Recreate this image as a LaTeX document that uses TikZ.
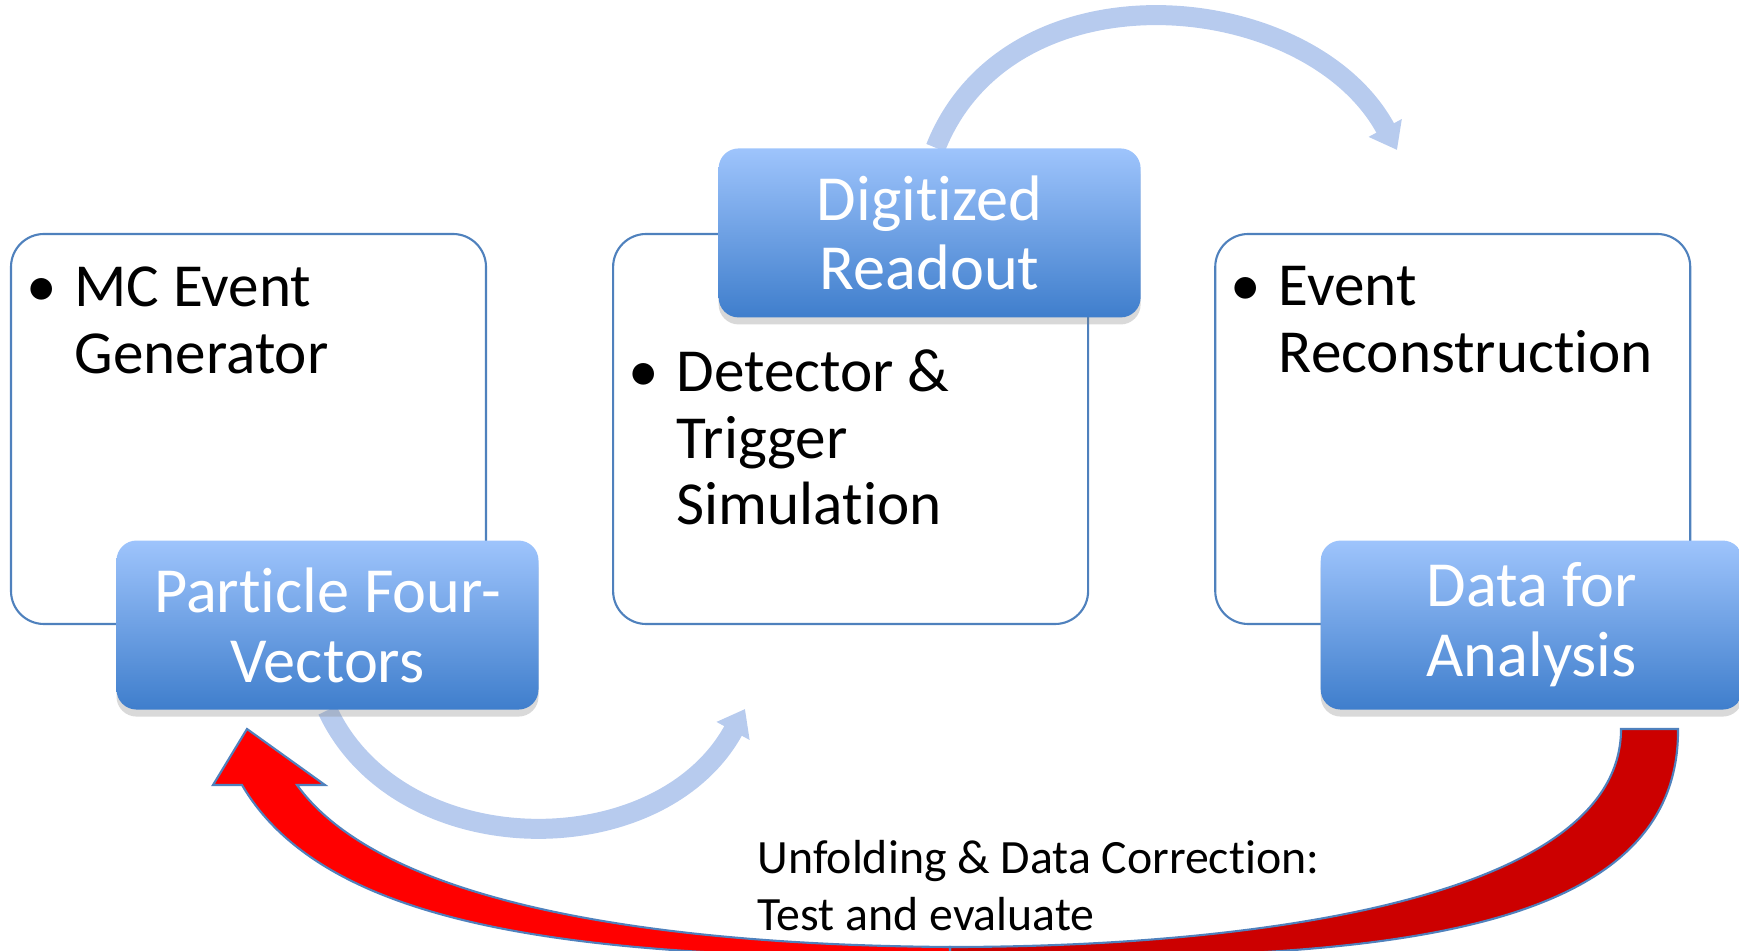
\documentclass[tikz,border=0pt]{standalone}
\usepackage{fontspec}
\setmainfont{Carlito}[Ligatures=NoCommon]
\usepackage{tikz}
\usetikzlibrary{positioning, calc, arrows.meta, shadows, backgrounds}
\usepackage{xcolor}

\definecolor{panelline}{RGB}{79,129,189}
\definecolor{tagtop}{RGB}{158,196,252}
\definecolor{tagbottom}{RGB}{63,126,204}
\definecolor{arcblue}{RGB}{183,203,238}
\definecolor{redlight}{RGB}{255,0,0}
\definecolor{reddark}{RGB}{204,0,0}

\begin{document}
\begin{tikzpicture}
    % Define styles
    \tikzstyle{panel} = [rectangle, rounded corners=0.33cm, minimum width=4.75cm, minimum height=3.9cm, draw=panelline, line width=0.6pt, fill=white]
    \tikzstyle{tag} = [rectangle, rounded corners=0.2cm, minimum width=4.22cm, minimum height=1.69cm, top color=tagtop, bottom color=tagbottom, text=white, align=center, font=\fontsize{18.3}{19.9}\selectfont, drop shadow={shadow xshift=0pt, shadow yshift=-2pt, opacity=0.3}]
    \tikzstyle{bullets} = [inner sep=0, align=left, anchor=north west, font=\fontsize{17.4}{19}\selectfont]
    \tikzstyle{flow} = [line width=0.2cm, arcblue, -{Triangle[length=0.25cm, width=0.36cm]}]
    \tikzstyle{redarrow} = [draw=panelline, line width=0.6pt]

    \useasboundingbox (0,0) rectangle (17.39,-9.51);
    \clip (0,0) rectangle (17.39,-9.51);

    % Nodes
    \node (gen) [panel] at (2.485,-4.29) {};
    \node (sim) [panel, right=1.25cm of gen] {};
    \node (rec) [panel, right=1.25cm of sim] {};

    \node (gentxt) [bullets] at ($(gen.north west)+(0.16,-0.33)$) {\makebox[0.48cm][l]{\textbullet}MC Event\\\hspace*{0.48cm}Generator};
    \node (simtxt) [bullets] at ($(sim.north west)+(0.16,-1.16)$) {\makebox[0.48cm][l]{\textbullet}Detector \&\\\hspace*{0.48cm}Trigger\\\hspace*{0.48cm}Simulation};
    \node (rectxt) [bullets] at ($(rec.north west)+(0.16,-0.33)$) {\makebox[0.48cm][l]{\textbullet}Event\\\hspace*{0.48cm}Reconstruction};

    \node (pfv) [tag] at ($(gen.south)+(0.79,0)$) {Particle Four-\\Vectors};
    \node (dr) [tag] at ($(sim.north)+(0.79,0)$) {Digitized\\Readout};
    \node (dfa) [tag] at ($(rec.south)+(0.79,0)$) {Data for\\Analysis};

    \node (unfold) [inner sep=0, align=left, anchor=north west, font=\fontsize{13.6}{16}\selectfont] at (7.57,-8.40) {Unfolding \& Data Correction:\\Test and evaluate};

    \coordinate (toptip) at (13.97,-1.50);
    \coordinate (midtip) at (7.45,-7.09);

    % Arrows
    \begin{scope}[on background layer]
        \draw [flow] ($(dr.north)+(0.06,0)$) .. controls (10.10,0.40) and (13.10,0.12) .. (toptip);
        \draw [flow] (pfv.south) .. controls (4.00,-8.65) and (6.60,-8.65) .. (midtip);
    \end{scope}

    % red feedback arrow
    \filldraw [redarrow, fill=reddark] (16.78,-7.29) .. controls (16.80,-9.60) and (13.00,-9.58) .. (9.50,-9.58) -- (9.50,-9.47) .. controls (12.50,-9.47) and (16.21,-9.00) .. (16.21,-7.29) -- cycle;
    \filldraw [redarrow, fill=redlight] (9.50,-9.58) .. controls (6.00,-9.58) and (3.30,-9.35) .. (2.42,-7.85) -- (2.13,-7.85) -- (2.47,-7.29) -- (3.25,-7.85) -- (2.97,-7.85) .. controls (3.80,-9.00) and (6.40,-9.45) .. (9.50,-9.47) -- cycle;
\end{tikzpicture}
\end{document}
